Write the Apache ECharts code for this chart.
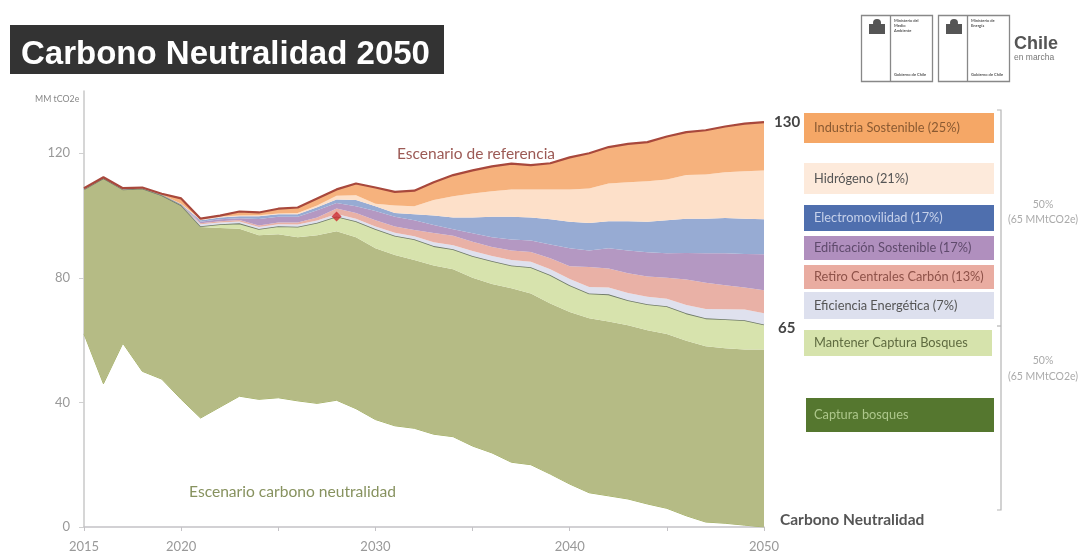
<!DOCTYPE html>
<html><head><meta charset="utf-8">
<style>html,body{margin:0;padding:0;background:#fff}#c{width:1082px;height:555px}</style>
<script src="https://cdn.jsdelivr.net/npm/echarts@6/dist/echarts.min.js"></script>
</head><body><div id="c"></div>
<script>
const years=[2015,2016,2017,2018,2019,2020,2021,2022,2023,2024,2025,2026,2027,2028,2029,2030,2031,2032,2033,2034,2035,2036,2037,2038,2039,2040,2041,2042,2043,2044,2045,2046,2047,2048,2049,2050];
// Level of the top edge of each band (MM tCO2e)
const netEmissions=[62,46,59,50,47.5,41,35,38.5,42,41,41.5,40.5,39.7,40.7,38,34.5,32.5,31.7,29.8,29,26,23.8,20.8,20,17,13.8,11,10,9,7.4,6,3.6,1.6,1.2,0.6,0];
const capturaBosques=[108.4,112,108.4,108.7,106.5,103.3,96.3,96,95.8,93.7,94,93,93.7,95,93,89.5,87.3,85.7,84,82.8,80,78,76.7,75,71.8,69,67,66,64.8,63.2,62,59.8,58,57.4,57,57];
const mantenerCaptura=[108.4,112,108.4,108.7,106.5,103.3,96.6,97.2,97.5,95.7,96.6,96.4,97.7,99.7,98.2,95.7,93.5,92.4,90.2,89.2,87,85.4,84,83.4,80.9,77.6,75,74.7,72.8,71.5,70.9,68.6,67,66.7,66.4,65];
const eficiencia=[108.5,112.1,108.5,108.8,106.6,103.4,97.2,97.8,98.1,96.3,97.2,97.1,98.4,100.5,99,96.5,94.5,93.4,91.4,90.5,88.6,87,85.7,85.2,82.8,79.6,77.1,76.9,75.1,73.9,73.3,71.3,70,69.9,69.8,68.6];
const retiroCarbon=[108.5,112.1,108.5,108.8,106.6,103.4,97.5,98.2,98.6,96.8,97.8,97.8,99.4,102.3,100.8,98.5,96.5,95.4,94.4,93.5,91.6,89.9,88.8,88.3,86.3,83.7,83.5,83,81.5,80.4,80,79.5,78.4,77.6,76.9,76];
const edificacion=[108.5,112.1,108.5,108.8,106.6,103.5,98,98.8,99.1,98.9,99.6,99.6,101.7,104,103,101.5,99.6,98.5,97,95.6,94.3,93,92.3,92,90.7,89.5,88.8,89.5,88.8,88.2,87.9,88,87.9,87.9,87.7,87.6];
const electromovilidad=[108.5,112.1,108.5,108.8,106.7,103.6,98.5,99.4,99.8,99.8,100.4,100.4,102.7,105.2,105,103,100.8,100.4,100,99.4,99.4,99.6,99.6,99.4,98.8,98,97.6,98.2,98.2,98,98.5,99,99,99.2,99,98.8];
const hidrogeno=[108.6,112.1,108.6,108.9,106.8,103.8,98.8,99.7,100,100.1,100.7,100.8,103.2,106.4,106.5,103.8,103.2,103,105,106.2,107.1,107.8,108.4,108.4,108.4,108.4,108.7,110.3,110.7,111,111.6,113,113.2,113.9,114.2,114.5];
const referencia=[108.8,112.3,108.8,109,107,105.5,99,100,101.3,101,102.2,102.6,105.5,108.4,110.3,109,107.6,108,110.7,113,114.5,115.8,116.7,116.2,116.8,118.7,120,122,123,123.6,125.4,126.8,127.4,128.6,129.5,130];
const markerYear='2028', markerValue=99.7;
const shownYears=[2015,2020,2030,2040,2050];
const legendLabels=['Industria Sostenible (25%)','Hidrógeno (21%)','Electromovilidad (17%)','Edificación Sostenible (17%)','Retiro Centrales Carbón (13%)','Eficiencia Energética (7%)','Mantener Captura Bosques','Captura bosques'];

const bands=[
 ['Neto',netEmissions,null,{color:'#a3b163',width:1}],
 ['Captura bosques',capturaBosques,'#b5bb85',{width:0}],
 ['Mantener Captura Bosques',mantenerCaptura,'#d7e3ad',{color:'#6f7a68',width:1.6}],
 ['Eficiencia Energética',eficiencia,'#dfe1ee',{width:0}],
 ['Retiro Centrales Carbón',retiroCarbon,'#e9b1a6',{width:0}],
 ['Edificación Sostenible',edificacion,'#b498c2',{width:0}],
 ['Electromovilidad',electromovilidad,'#97abd3',{width:0}],
 ['Hidrógeno',hidrogeno,'#fde0c9',{width:0}],
 ['Industria Sostenible',referencia,'#f6b27d',{color:'#a8483c',width:2.2}]
];
const series=bands.map((b,i)=>({
  name:b[0],type:'line',stack:'total',symbol:'none',silent:true,
  data:b[1].map((v,k)=>i===0?v:+(v-bands[i-1][1][k]).toFixed(2)),
  lineStyle:b[3],
  areaStyle:b[2]?{color:b[2],opacity:1}:{opacity:0},
  z:2+i
}));
series.push({type:'scatter',name:'Hoy',data:[[markerYear,markerValue]],symbol:'diamond',symbolSize:10,
  itemStyle:{color:'#cc282c'},z:20,silent:true});

const F='Lato, "Open Sans", sans-serif';
const txt=(x,y,t,size,color,weight,align)=>({type:'text',x,y,style:{text:t,font:(weight||'normal')+' '+size+'px '+F,fill:color,textAlign:align||'left',textVerticalAlign:'middle'},silent:true});
const box=(x,y,w,h,fill)=>({type:'rect',shape:{x,y,width:w,height:h},style:{fill},silent:true});
const legendGeom=[[804,113,190,30,'#f5a766','#8a5a32'],[804,163,190,31,'#fdeadb','#555'],[804,205,190,26,'#4f6fae','#c6d1ea'],[804,236,190,24,'#b08fbe','#5f4a6c'],[804,265,190,24,'#e9aca1','#8e5249'],[804,292,190,27,'#dde0ee','#555'],[804,330,188,26,'#d6e3ac','#5f6b40'],[806,398,188,34,'#55772f','#adc78b']];
const g=[];
g.push(box(10,25,434,49,'#333333'));
g.push({type:'text',x:21,y:55,style:{text:'Carbono Neutralidad 2050',font:'bold 33px "Liberation Sans", Arial, sans-serif',fill:'#fff',textVerticalAlign:'middle'},silent:true});
legendGeom.forEach((r,i)=>{g.push(box(r[0],r[1],r[2],r[3],r[4]));g.push(txt(814,r[1]+r[3]/2,legendLabels[i],12.8,r[5]));});
g.push(txt(397,154,'Escenario de referencia',15.5,'#9c5a55'));
g.push(txt(189,492,'Escenario carbono neutralidad',15.6,'#87925f'));
g.push(txt(774,122,'130',15,'#444','bold'));
g.push(txt(778,328,'65',15,'#444','bold'));
g.push(txt(780,520,'Carbono Neutralidad',15.5,'#555','bold'));
g.push(txt(35,99,'MM tCO2e',8.8,'#888'));
g.push(txt(1043,205,'50%',10.5,'#aaa','normal','center'));
g.push(txt(1043,220,'(65 MMtCO2e)',10.5,'#aaa','normal','center'));
g.push(txt(1043,361,'50%',10.5,'#aaa','normal','center'));
g.push(txt(1043,377,'(65 MMtCO2e)',10.5,'#aaa','normal','center'));
g.push({type:'polyline',shape:{points:[[997,110],[1001,110],[1001,510],[997,510]]},style:{stroke:'#b5b5b5',fill:'none',lineWidth:1.2},silent:true});
g.push({type:'line',shape:{x1:997,y1:326,x2:1001,y2:326},style:{stroke:'#b5b5b5',lineWidth:1.2},silent:true});
[[861,'Ministerio del','Medio','Ambiente'],[938,'Ministerio de','Energía','']].forEach(l=>{
  const x=l[0];
  g.push({type:'rect',shape:{x:x+.5,y:15.5,width:71,height:66},style:{fill:'#fff',stroke:'#888',lineWidth:1.3},silent:true});
  g.push({type:'line',shape:{x1:x+29.5,y1:15,x2:x+29.5,y2:81},style:{stroke:'#888',lineWidth:1.3},silent:true});
  g.push(box(x+8,24,16,10,'#555'));
  g.push({type:'circle',shape:{cx:x+16,cy:23,r:4},style:{fill:'#555'},silent:true});
  g.push(txt(x+33,21,l[1],4,'#555','bold'));
  g.push(txt(x+33,26,l[2],4,'#555','bold'));
  g.push(txt(x+33,31,l[3],4,'#555','bold'));
  g.push(txt(x+33,75,'Gobierno de Chile',4,'#555','bold'));
});
g.push({type:'text',x:1014,y:44,style:{text:'Chile',font:'bold 18px "Liberation Sans", sans-serif',fill:'#555',textVerticalAlign:'middle'},silent:true});
g.push({type:'text',x:1014,y:58,style:{text:'en marcha',font:'normal 8.5px "Liberation Sans", sans-serif',fill:'#777',textVerticalAlign:'middle'},silent:true});

const chart=echarts.init(document.getElementById('c'),null,{renderer:'canvas'});
chart.setOption({
  animation:false,backgroundColor:'#fff',
  grid:{left:84,right:318,top:91,bottom:28,containLabel:false},
  xAxis:{type:'category',boundaryGap:false,data:years.map(String),
    axisLine:{lineStyle:{color:'#c4c2c6',width:1.5}},
    axisTick:{alignWithLabel:true,interval:4,length:4,lineStyle:{color:'#c4c2c6'}},
    axisLabel:{interval:4,margin:13,color:'#999',fontSize:13,fontFamily:F,
      formatter:v=>shownYears.includes(+v)?v:''}},
  yAxis:{type:'value',min:0,max:140,interval:40,splitLine:{show:false},
    axisLine:{show:true,lineStyle:{color:'#c8c8c8',width:1.5}},
    axisTick:{show:true,length:5,lineStyle:{color:'#d0d0d0'}},
    axisLabel:{margin:14,color:'#999',fontSize:13,fontFamily:F,showMaxLabel:false}},
  series,
  graphic:{elements:g}
});
</script></body></html>
